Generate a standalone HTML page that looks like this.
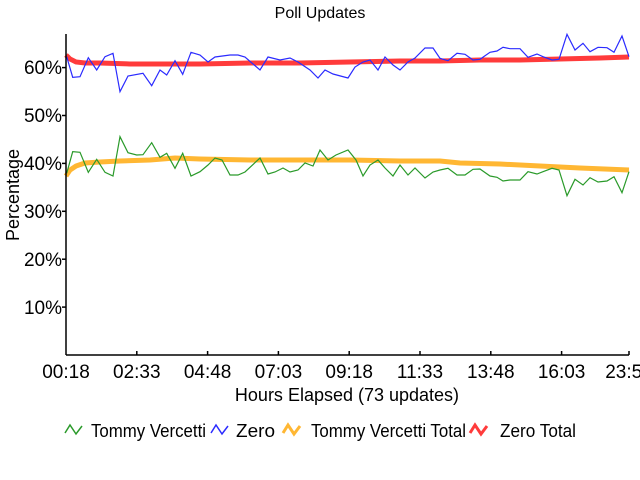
<!DOCTYPE html>
<html><head><meta charset="utf-8"><style>
html,body{margin:0;padding:0;background:#fff;}
svg{display:block;font-family:"Liberation Sans",sans-serif;}
</style></head><body>
<svg width="640" height="480" viewBox="0 0 640 480">
<rect width="640" height="480" fill="#fff"/>
<text x="320" y="18" font-size="16" text-anchor="middle" fill="#000">Poll Updates</text>
<!-- series -->
<polyline fill="none" stroke="#ffb733" stroke-width="5" points="66,176 70,170 76,166 85,163 100,162 120,161 150,160 175,158 200,159 250,160 300,160 350,160 400,161 440,161 460,163 500,164 540,166 580,168 629,170"/>
<polyline fill="none" stroke="#ff3b3b" stroke-width="5" points="66,55 70,59 76,62 85,63 100,63 130,64 160,64 200,64 250,63 300,63 350,62 400,61 440,61 480,60 520,60 560,59 600,58 629,57"/>
<polyline fill="none" stroke="#2a9a2a" stroke-width="1.2" points="66.7,173.3 72.7,151.7 80,152.3 88.3,172.3 96.7,159.3 105,172.3 113,176 120,136.7 128,152.7 136.7,155 143,154.7 151.7,142.7 160,157.3 166.7,153.3 175,168.3 182.7,153.3 191,176 200,171.7 208,165 215,158 222,160 230,175 238,175 245,172 260,158 268,174 275,172 283,168 290,172 298,170 305,163 313,166 320,150 328,160 336,155 348,150 356,160 363,176 370,165 378,160 385,168 393,176 400,165 408,175 415,168 425,178 433,172 440,170 448,168.3 457,175 465,175 473,169.3 480,169 490,176 497,177.3 503,181 510,180 520,180 528,171.7 537,174 543,171.7 552,168.3 559,170 567,195.7 575,179.3 583,185 590,177.7 598,182 607,181 614,176.7 622,192.7 629,171.7"/>
<polyline fill="none" stroke="#2b2bff" stroke-width="1.2" points="66.7,56.7 72.7,77.3 80,76.7 88.3,57.7 96.7,70 105,56.7 113,53.3 120,91.7 128,76 143,73.3 151.7,85.7 160,70 166.7,75 175,60.7 182.7,74.3 191,52.3 200,55 208,62 215,57 230,55 238,55 245,57 260,70 268,57 280,60 290,58 298,62 310,70 318,78 325,70 333,74 348,78 355,67 363,62 370,60 378,70 385,57 393,65 400,70 408,62 415,58 425,48 433,48 440,58.3 448,60.7 457,53.3 465,54.3 473,60 480,59.3 490,52.3 497,51 503,47.3 510,48.7 520,48.7 528,57.3 537,54 543,56.7 552,60 559,59.3 567,34.3 575,50 583,43.3 590,51.7 598,47.3 607,47.7 614,52.3 622,36 629,56.7"/>
<!-- axes -->
<g stroke="#000" stroke-width="1.5">
<line x1="66" y1="34" x2="66" y2="355"/>
<line x1="66" y1="355" x2="629" y2="355"/>
<line x1="62" y1="67.6" x2="66" y2="67.6"/><line x1="62" y1="115.5" x2="66" y2="115.5"/><line x1="62" y1="163.4" x2="66" y2="163.4"/><line x1="62" y1="211.3" x2="66" y2="211.3"/><line x1="62" y1="259.2" x2="66" y2="259.2"/><line x1="62" y1="307.1" x2="66" y2="307.1"/>
<line x1="136.8" y1="351" x2="136.8" y2="355"/><line x1="207.6" y1="351" x2="207.6" y2="355"/><line x1="278.4" y1="351" x2="278.4" y2="355"/><line x1="349.2" y1="351" x2="349.2" y2="355"/><line x1="420" y1="351" x2="420" y2="355"/><line x1="490.8" y1="351" x2="490.8" y2="355"/><line x1="561.6" y1="351" x2="561.6" y2="355"/><line x1="629" y1="351" x2="629" y2="355"/>
</g>
<g font-size="19" text-anchor="end" fill="#000">
<text x="62" y="74">60%</text><text x="62" y="122">50%</text><text x="62" y="170">40%</text><text x="62" y="218">30%</text><text x="62" y="266">20%</text><text x="62" y="314">10%</text>
</g>
<g font-size="19" text-anchor="middle" fill="#000">
<text x="66" y="378">00:18</text><text x="136.8" y="378">02:33</text><text x="207.6" y="378">04:48</text><text x="278.4" y="378">07:03</text><text x="349.2" y="378">09:18</text><text x="420" y="378">11:33</text><text x="490.8" y="378">13:48</text><text x="561.6" y="378">16:03</text><text x="629" y="378">23:58</text>
<text x="347" y="401" font-size="18">Hours Elapsed (73 updates)</text>
<text transform="translate(19,195) rotate(-90)" font-size="18">Percentage</text>
</g>
<!-- legend -->
<g fill="none" stroke-width="1.5">
<polyline stroke="#2a9a2a" points="65,433 70,425 76,434 82,426"/>
<polyline stroke="#2b2bff" points="211,433 216,425 222,434 228,426"/>
<polyline stroke="#ffb733" stroke-width="3" points="283,433 288,425 294,434 300,426"/>
<polyline stroke="#ff3b3b" stroke-width="3" points="470,433 475,425 481,434 487,426"/>
</g>
<g font-size="18" fill="#000">
<text x="91" y="437" textLength="115" lengthAdjust="spacingAndGlyphs">Tommy Vercetti</text>
<text x="236" y="437" textLength="39" lengthAdjust="spacingAndGlyphs">Zero</text>
<text x="311" y="437" textLength="155" lengthAdjust="spacingAndGlyphs">Tommy Vercetti Total</text>
<text x="500" y="437" textLength="76" lengthAdjust="spacingAndGlyphs">Zero Total</text>
</g>
</svg>
</body></html>
